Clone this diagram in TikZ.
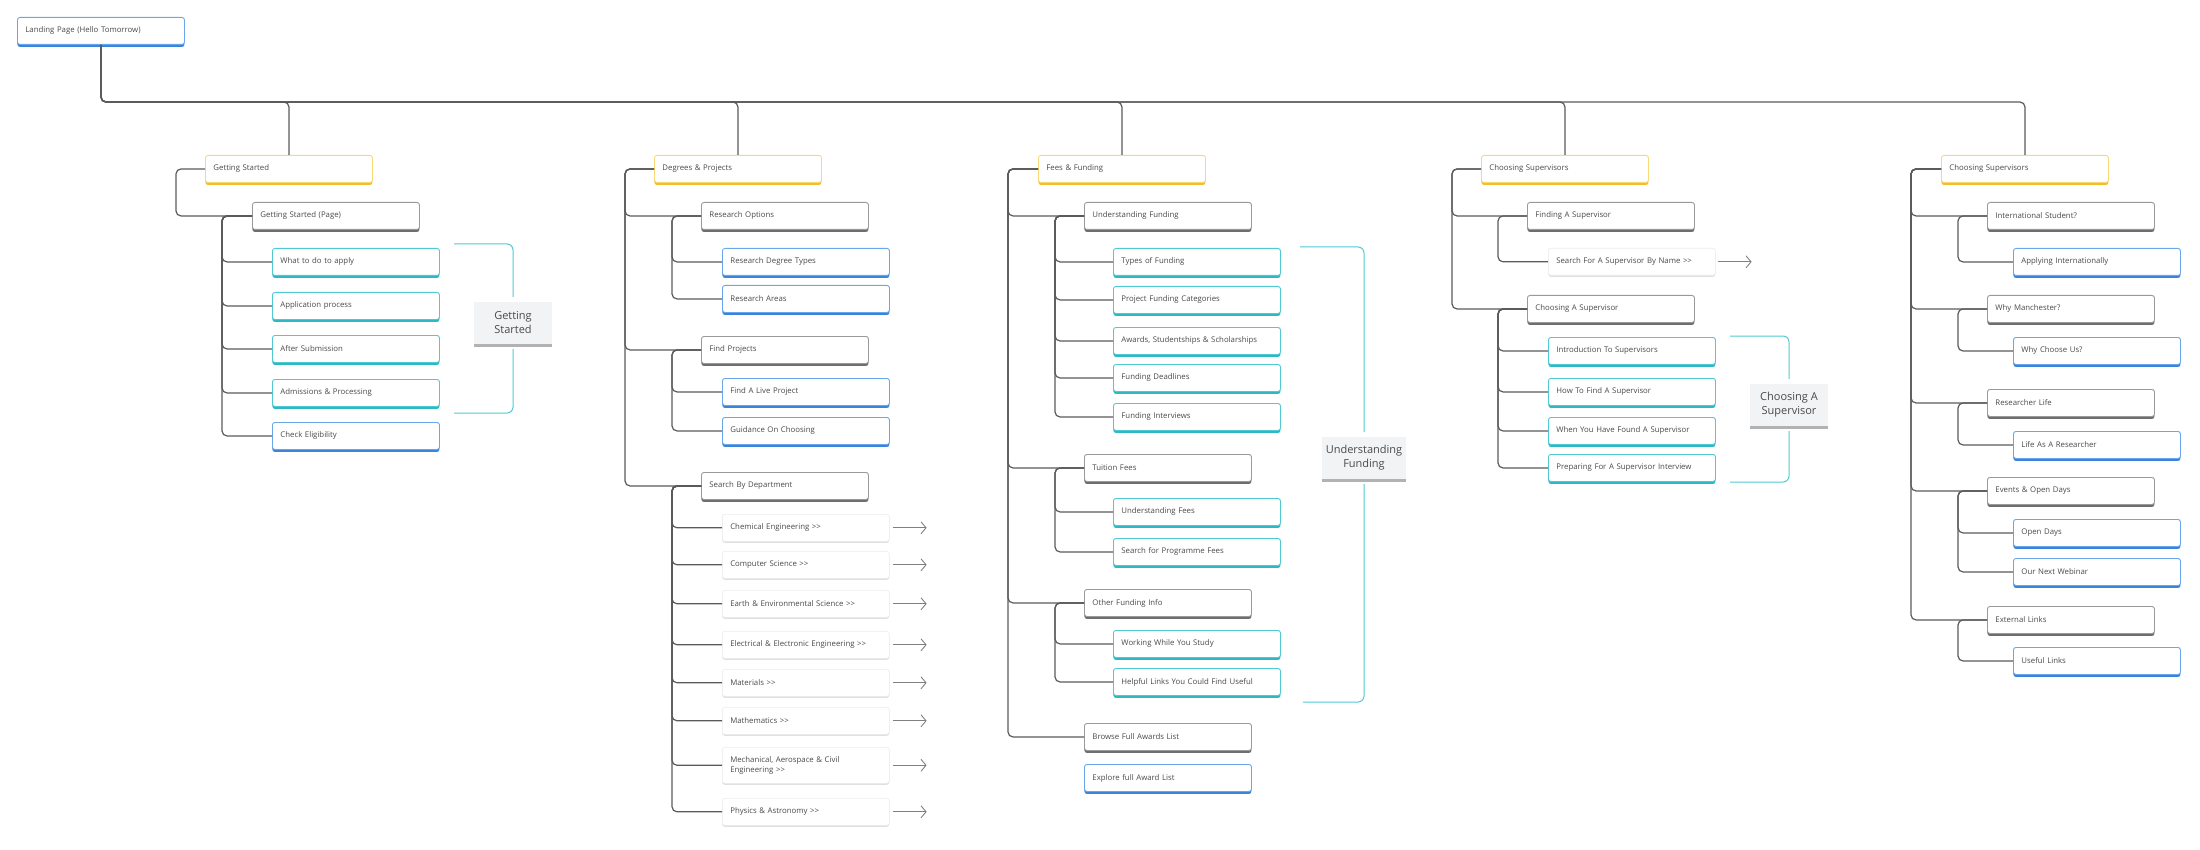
\documentclass[tikz,border=0pt]{standalone}
\usepackage{fontspec}
\setmainfont{Open Sans}
\usetikzlibrary{calc, positioning}
\usetikzlibrary{arrows.meta}
\usetikzlibrary{shadows}
\hyphenpenalty=10000
\exhyphenpenalty=10000

\definecolor{txt}{HTML}{4A4A4A}
\definecolor{ln}{HTML}{5A5A5A}
\definecolor{ylw}{HTML}{F8D97A}
\definecolor{ylwdk}{HTML}{F2BE2A}
\definecolor{gry}{HTML}{9A9A9A}
\definecolor{grydk}{HTML}{6E6E6E}
\definecolor{tl}{HTML}{4FCAD4}
\definecolor{tldk}{HTML}{2DB8C4}
\definecolor{blu}{HTML}{6AA6EA}
\definecolor{bludk}{HTML}{3A84DB}
\definecolor{notebg}{HTML}{F2F3F5}

\tikzset{
  box/.style={draw, rounded corners=2.5pt, fill=white, line width=0.9pt, anchor=north west,
    minimum width=167pt, minimum height=27pt, text width=151pt, align=left,
    inner xsep=8pt, font=\fontsize{7.8}{10.5}\selectfont, text=txt},
  topicbox/.style={box, draw=ylw, general shadow={fill=ylwdk, shadow yshift=-2.5pt}},
  pagebox/.style={box, draw=gry, general shadow={fill=grydk, shadow yshift=-2.5pt}},
  tealbox/.style={box, draw=tl, general shadow={fill=tldk, shadow yshift=-2.5pt}},
  bluebox/.style={box, draw=blu, general shadow={fill=bludk, shadow yshift=-2.5pt}},
  linkbox/.style={box, draw=black!8, line width=0.6pt, general shadow={fill=black!12, shadow yshift=-1.5pt}},
  notebox/.style={fill=notebg, align=center, text=txt, font=\fontsize{11}{14}\selectfont,
    minimum width=78pt, minimum height=42pt, inner xsep=4pt, inner ysep=4pt, outer ysep=5pt,
    general shadow={fill=black!30, shadow yshift=-2.5pt}},
  tree/.style={draw=ln, line width=1.2pt, rounded corners=5pt},
  bracket/.style={draw=tl, line width=1pt, rounded corners=6pt},
  ext/.style={draw=black!50, line width=0.9pt, -{Straight Barb[length=5pt,width=12pt]}}
}

\begin{document}
\begin{tikzpicture}[x=1pt,y=-1pt]
\useasboundingbox (0,0) rectangle (2200,850);

\node[bluebox] (land) at (17,17) {Landing Page (Hello Tomorrow)};
\coordinate (bus) at (0,102);

% getting started
\node[topicbox] (gs) at (205,155) {Getting Started};
\node[pagebox] (gsp) at (252,202) {Getting Started (Page)};
\node[tealbox] (gs1) at (272,248) {What to do to apply};
\node[tealbox] (gs2) at (272,292) {Application process};
\node[tealbox] (gs3) at (272,335) {After Submission};
\node[tealbox] (gs4) at (272,379) {Admissions \& Processing};
\node[bluebox] (gs5) at (272,422) {Check Eligibility};
\draw[tree] (gs.west) -- ++(-29,0) |- (gsp.west);
\foreach \c in {gs1,gs2,gs3,gs4,gs5} {
  \draw[tree] (gsp.west) -- ++(-30,0) |- (\c.west);
}
\node[notebox] (gslab) at (513,323) {Getting\\Started};
\coordinate (gsbt) at (454,244);
\coordinate (gsbb) at (454,413);
\draw[bracket] (gsbt) -| (gslab.north);
\draw[bracket] (gsbb) -| (gslab.south);

% degrees & projects
\node[topicbox] (dp) at (654,155) {Degrees \& Projects};
\node[pagebox] (ro) at (701,202) {Research Options};
\node[bluebox] (rdt) at (722,248) {Research Degree Types};
\node[bluebox] (ra) at (722,285) {Research Areas};
\node[pagebox] (fp) at (701,336) {Find Projects};
\node[bluebox] (flp) at (722,378) {Find A Live Project};
\node[bluebox] (goc) at (722,417) {Guidance On Choosing};
\node[pagebox] (sbd) at (701,472) {Search By Department};
\foreach \c in {ro,fp,sbd} {
  \draw[tree] (dp.west) -- ++(-29,0) |- (\c.west);
}
\foreach \c in {rdt,ra} {
  \draw[tree] (ro.west) -- ++(-29,0) |- (\c.west);
}
\foreach \c in {flp,goc} {
  \draw[tree] (fp.west) -- ++(-29,0) |- (\c.west);
}
\foreach \c/\y/\t in {d1/514/Chemical Engineering >{}>,
                      d2/551/Computer Science >{}>,
                      d3/590/Earth \& Environmental Science >{}>,
                      d4/631/Electrical \& Electronic Engineering >{}>,
                      d5/669/Materials >{}>,
                      d6/707/Mathematics >{}>,
                      d8/798/Physics \& Astronomy >{}>} {
  \node[linkbox] (\c) at (722,\y) {\t};
}
\node[linkbox, minimum height=36pt] (d7) at (722,747) {Mechanical, Aerospace \& Civil\\Engineering >{}>};
\foreach \c in {d1,d2,d3,d4,d5,d6,d7,d8} {
  \draw[tree] (sbd.west) -- ++(-29,0) |- (\c.west);
  \coordinate (\c x) at ($(\c.east)+(37,0)$);
  \draw[ext] ([xshift=3pt]\c.east) -- (\c x);
}

% fees & funding
\node[topicbox] (ff) at (1038,155) {Fees \& Funding};
\node[pagebox] (uf) at (1084,202) {Understanding Funding};
\node[tealbox] (tof) at (1113,248) {Types of Funding};
\node[tealbox] (pfc) at (1113,286) {Project Funding Categories};
\node[tealbox] (awd) at (1113,327) {Awards, Studentships \& Scholarships};
\node[tealbox] (fdl) at (1113,364) {Funding Deadlines};
\node[tealbox] (fint) at (1113,403) {Funding Interviews};
\node[pagebox] (tf) at (1084,454) {Tuition Fees};
\node[tealbox] (uff) at (1113,498) {Understanding Fees};
\node[tealbox] (spf) at (1113,538) {Search for Programme Fees};
\node[pagebox] (ofi) at (1084,589) {Other Funding Info};
\node[tealbox] (wwys) at (1113,630) {Working While You Study};
\node[tealbox] (hl) at (1113,668) {Helpful Links You Could Find Useful};
\node[pagebox] (bfal) at (1084,723) {Browse Full Awards List};
\node[bluebox] (efal) at (1084,764) {Explore full Award List};
\foreach \c in {uf,tf,ofi,bfal} {
  \draw[tree] (ff.west) -- ++(-30,0) |- (\c.west);
}
\foreach \c in {tof,pfc,awd,fdl,fint} {
  \draw[tree] (uf.west) -- ++(-29,0) |- (\c.west);
}
\foreach \c in {uff,spf} {
  \draw[tree] (tf.west) -- ++(-29,0) |- (\c.west);
}
\foreach \c in {wwys,hl} {
  \draw[tree] (ofi.west) -- ++(-29,0) |- (\c.west);
}
\node[notebox] (uflab) at (1364,458) {Understanding\\Funding};
\coordinate (ufbt) at (1300,247);
\coordinate (ufbb) at (1303,702);
\draw[bracket] (ufbt) -| (uflab.north);
\draw[bracket] (ufbb) -| (uflab.south);

% choosing supervisors
\node[topicbox] (cs) at (1481,155) {Choosing Supervisors};
\node[pagebox] (fas) at (1527,202) {Finding A Supervisor};
\node[linkbox] (sfs) at (1548,248) {Search For A Supervisor By Name >{}>};
\node[pagebox] (cas) at (1527,295) {Choosing A Supervisor};
\node[tealbox] (its) at (1548,337) {Introduction To Supervisors};
\node[tealbox] (htf) at (1548,378) {How To Find A Supervisor};
\node[tealbox] (wyh) at (1548,417) {When You Have Found A Supervisor};
\node[tealbox] (pfi) at (1548,454) {Preparing For A Supervisor Interview};
\foreach \c in {fas,cas} {
  \draw[tree] (cs.west) -- ++(-29,0) |- (\c.west);
}
\draw[tree] (fas.west) -- ++(-29,0) |- (sfs.west);
\coordinate (sfsx) at ($(sfs.east)+(36,0)$);
\draw[ext] ([xshift=2pt]sfs.east) -- (sfsx);
\foreach \c in {its,htf,wyh,pfi} {
  \draw[tree] (cas.west) -- ++(-29,0) |- (\c.west);
}
\node[notebox] (caslab) at (1789,405) {Choosing A\\Supervisor};
\coordinate (casbt) at (1730,336);
\coordinate (casbb) at (1730,482);
\draw[bracket] (casbt) -| (caslab.north);
\draw[bracket] (casbb) -| (caslab.south);

% second choosing supervisors
\node[topicbox] (cs2) at (1941,155) {Choosing Supervisors};
\node[pagebox] (ist) at (1987,202) {International Student?};
\node[bluebox] (ai) at (2013,248) {Applying Internationally};
\node[pagebox] (wm) at (1987,295) {Why Manchester?};
\node[bluebox] (wcu) at (2013,337) {Why Choose Us?};
\node[pagebox] (rl) at (1987,389) {Researcher Life};
\node[bluebox] (lar) at (2013,431) {Life As A Researcher};
\node[pagebox] (eod) at (1987,477) {Events \& Open Days};
\node[bluebox] (od) at (2013,519) {Open Days};
\node[bluebox] (onw) at (2013,558) {Our Next Webinar};
\node[pagebox] (el) at (1987,606) {External Links};
\node[bluebox] (ul) at (2013,647) {Useful Links};
\foreach \c in {ist,wm,rl,eod,el} {
  \draw[tree] (cs2.west) -- ++(-30,0) |- (\c.west);
}
\foreach \p/\c in {ist/ai,wm/wcu,rl/lar,eod/od,eod/onw,el/ul} {
  \draw[tree] (\p.west) -- ++(-29,0) |- (\c.west);
}

% top level
\foreach \t in {gs,dp,ff,cs,cs2} {
  \draw[tree] (land.south) -- (land.south |- bus) -| (\t.north);
}
\end{tikzpicture}
\end{document}
